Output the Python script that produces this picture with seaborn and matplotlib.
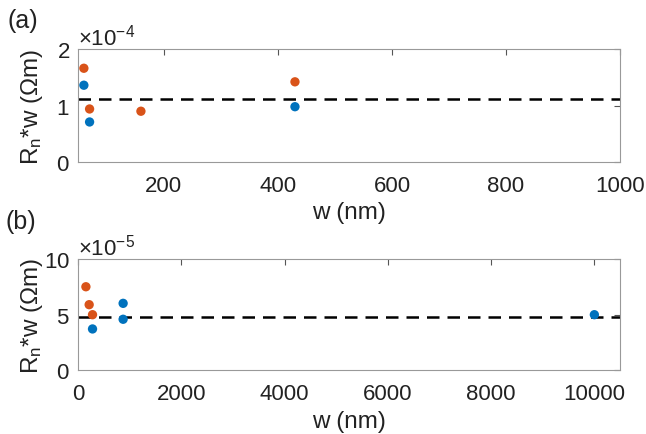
import numpy as np
import pandas as pd
import matplotlib
matplotlib.use("Agg")
import matplotlib.pyplot as plt
import seaborn as sns
from matplotlib.ticker import ScalarFormatter

# panel (a) data
a_orange_w = [60, 70, 160, 430]
a_orange_r = [1.66e-4, 0.94e-4, 0.90e-4, 1.42e-4]
a_blue_w = [60, 70, 430]
a_blue_r = [1.36e-4, 0.71e-4, 0.98e-4]
a_fit = 1.11e-4

# panel (b) data
b_orange_w = [150, 213, 278]
b_orange_r = [7.52e-5, 5.91e-5, 5.01e-5]
b_blue_w = [278, 871, 871, 10000]
b_blue_r = [3.73e-5, 6.03e-5, 4.60e-5, 5.01e-5]
b_fit = 4.78e-5

blue = "#0072BD"
orange = "#D95319"

sns.set_style("white")
plt.rcParams["font.family"] = ["Liberation Sans", "DejaVu Sans"]
plt.rcParams["mathtext.default"] = "regular"

fig = plt.figure(figsize=(6.46, 4.35), dpi=100)
ax1 = fig.add_axes([0.121, 0.625, 0.839, 0.26])
ax2 = fig.add_axes([0.121, 0.146, 0.839, 0.256])


def make_df(ow, orr, bw, br):
    return pd.DataFrame({
        "w": list(ow) + list(bw),
        "r": list(orr) + list(br),
        "s": ["o"] * len(ow) + ["b"] * len(bw),
    })


def style(ax, xlim, xticks, ylim, yticks, power):
    ax.set_xlim(xlim)
    ax.set_ylim(ylim)
    ax.set_xticks(xticks)
    ax.set_yticks(yticks)
    fmt = ScalarFormatter(useMathText=True)
    fmt.set_powerlimits((power, power))
    ax.yaxis.set_major_formatter(fmt)
    ax.yaxis.get_offset_text().set_fontsize(16)
    ax.yaxis.get_offset_text().set_color("#222222")
    ax.tick_params(axis="x", pad=9)
    ax.tick_params(axis="y", pad=6)
    ax.tick_params(direction="in", top=True, right=True, length=4,
                   color="#555555", labelsize=16, labelcolor="#222222")
    for sp in ax.spines.values():
        sp.set_color("#999999")
        sp.set_linewidth(0.8)
    ax.set_xlabel("w (nm)", fontsize=17.5, labelpad=4, color="#222222")
    ax.set_ylabel("R$_n$*w (Ωm)", fontsize=17.5, color="#222222")
    ax.yaxis.set_label_coords(-0.061, 0.5)


df1 = make_df(a_orange_w, a_orange_r, a_blue_w, a_blue_r)
sns.scatterplot(data=df1, x="w", y="r", hue="s", palette={"o": orange, "b": blue},
                s=45, edgecolor="none", legend=False, ax=ax1, zorder=3)
ax1.axhline(a_fit, color="black", ls=(0, (5, 3.2)), lw=1.8, zorder=2)
style(ax1, (50, 1000), [200, 400, 600, 800, 1000], (0, 2e-4), [0, 1e-4, 2e-4], -4)

df2 = make_df(b_orange_w, b_orange_r, b_blue_w, b_blue_r)
sns.scatterplot(data=df2, x="w", y="r", hue="s", palette={"o": orange, "b": blue},
                s=45, edgecolor="none", legend=False, ax=ax2, zorder=3)
ax2.axhline(b_fit, color="black", ls=(0, (5, 3.2)), lw=1.8, zorder=2)
style(ax2, (0, 10500), [0, 2000, 4000, 6000, 8000, 10000], (0, 1e-4), [0, 5e-5, 1e-4], -5)

fig.text(0.012, 0.952, "(a)", fontsize=18, va="center", color="#222222")
fig.text(0.008, 0.49, "(b)", fontsize=18, va="center", color="#222222")

fig.savefig("out.png", dpi=100)
